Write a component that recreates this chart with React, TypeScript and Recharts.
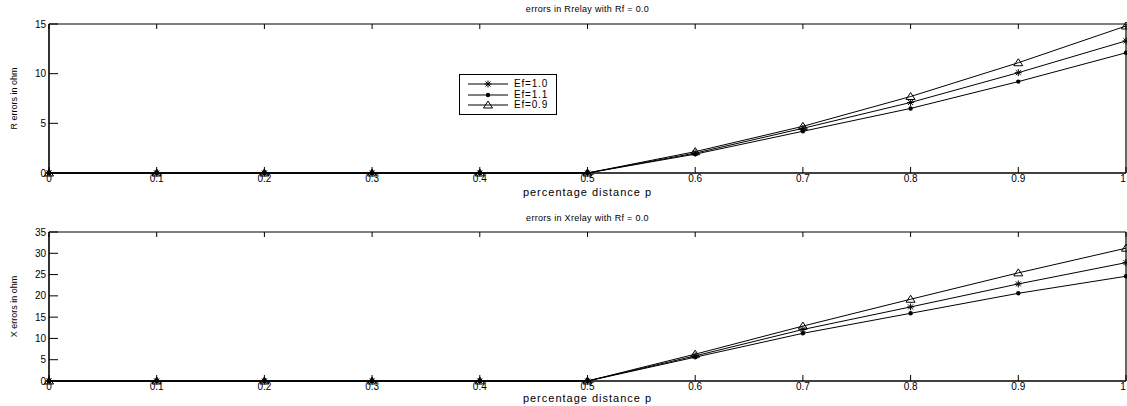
import { FC, ReactElement } from "react";
import { LineChart, Line, XAxis, YAxis, Legend } from "recharts";

// percentage distance p
const pValues = [0, 0.1, 0.2, 0.3, 0.4, 0.5, 0.6, 0.7, 0.8, 0.9, 1.0];

// errors in Rrelay
const rEf10 = [0, 0, 0, 0, 0, 0, 2.0, 4.5, 7.1, 10.1, 13.3];
const rEf11 = [0, 0, 0, 0, 0, 0, 1.9, 4.2, 6.5, 9.2, 12.1];
const rEf09 = [0, 0, 0, 0, 0, 0, 2.15, 4.7, 7.7, 11.1, 14.8];

// errors in Xrelay
const xEf10 = [0, 0, 0, 0, 0, 0, 5.9, 12.1, 17.4, 22.8, 27.8];
const xEf11 = [0, 0, 0, 0, 0, 0, 5.6, 11.2, 15.9, 20.6, 24.6];
const xEf09 = [0, 0, 0, 0, 0, 0, 6.3, 12.9, 19.2, 25.4, 31.2];

const rTicks = [0, 5, 10, 15];
const xTicks = [0, 5, 10, 15, 20, 25, 30, 35];

const seriesNames = ["Ef=1.0", "Ef=1.1", "Ef=0.9"];

const FONT = "'Liberation Sans', Arial, sans-serif";

const makeRows = (a: number[], b: number[], c: number[]) =>
  pValues.map((p, i) => ({ p, ef10: a[i], ef11: b[i], ef09: c[i] }));

const rData = makeRows(rEf10, rEf11, rEf09);
const xData = makeRows(xEf10, xEf11, xEf09);

const fmtP = (v: number) => (v === 0 ? "0" : v === 1 ? "1" : v.toFixed(1));

// markers
const Star = ({ cx, cy }: { cx: number; cy: number }) => (
  <g stroke="#000" strokeWidth={1}>
    <line x1={cx - 3.5} x2={cx + 3.5} y1={cy} y2={cy} />
    <line x1={cx} x2={cx} y1={cy - 3.5} y2={cy + 3.5} />
    <line x1={cx - 2.5} x2={cx + 2.5} y1={cy - 2.5} y2={cy + 2.5} />
    <line x1={cx - 2.5} x2={cx + 2.5} y1={cy + 2.5} y2={cy - 2.5} />
  </g>
);
const Dot = ({ cx, cy }: { cx: number; cy: number }) => (
  <circle cx={cx} cy={cy} r={2.2} fill="#000" />
);
const Tri = ({ cx, cy }: { cx: number; cy: number }) => (
  <polygon
    points={`${cx},${cy - 4} ${cx - 4.5},${cy + 3} ${cx + 4.5},${cy + 3}`}
    fill="none"
    stroke="#000"
    strokeWidth={1}
  />
);

const markers = [Star, Dot, Tri];

const dotFn = (M: FC<{ cx: number; cy: number }>) => (props: any): ReactElement => (
  <M key={`m-${props.index}`} cx={props.cx} cy={props.cy} />
);

// inward ticks, matlab style
const BottomTick = (props: any) => {
  const { x, y, payload } = props;
  // last label sits on the right edge, nudge it so it stays readable
  const tx = payload.value === 1 ? x - 3 : x;
  return (
    <g>
      <line x1={x} x2={x} y1={y} y2={y - 6} stroke="#000" />
      <text x={tx} y={y + 2} dy="0.71em" textAnchor="middle" fontSize={10} fill="#000" fontFamily={FONT}>
        {fmtP(payload.value)}
      </text>
    </g>
  );
};
const TopTick = (props: any) => {
  const { x, y } = props;
  return <line x1={x} x2={x} y1={y} y2={y + 5} stroke="#000" />;
};
const LeftTick = (props: any) => {
  const { x, y, payload } = props;
  return (
    <g>
      <line x1={x} x2={x + 9} y1={y} y2={y} stroke="#000" />
      <text x={x - 3} y={y} dy="0.35em" textAnchor="end" fontSize={10} fill="#000" fontFamily={FONT}>
        {payload.value}
      </text>
    </g>
  );
};
const RightTick = (props: any) => {
  const { x, y } = props;
  return <line x1={x} x2={x - 9} y1={y} y2={y} stroke="#000" />;
};

const LegendBox = () => (
  <div
    style={{
      border: "1px solid #000",
      background: "#fff",
      width: 98,
      padding: "4px 0 3px 0",
      fontFamily: FONT,
      fontSize: 10,
      letterSpacing: 0.8,
      boxSizing: "border-box",
    }}
  >
    {seriesNames.map((name, i) => {
      const M = markers[i];
      return (
        <div key={name} style={{ display: "flex", alignItems: "center", height: 10.5 }}>
          <svg width={54} height={10}>
            <line x1={8} x2={48} y1={5} y2={5} stroke="#000" />
            <M cx={28} cy={5} />
          </svg>
          <span style={{ lineHeight: "10px" }}>{name}</span>
        </div>
      );
    })}
  </div>
);

type PanelProps = {
  data: { p: number; ef10: number; ef11: number; ef09: number }[];
  top: number;
  height: number;
  marginTop: number;
  axisHeight: number;
  yMax: number;
  yTicks: number[];
  yLabel: string;
  title: string;
  titleY: number;
  showLegend?: boolean;
};

const Panel: FC<PanelProps> = ({
  data,
  top,
  height,
  marginTop,
  axisHeight,
  yMax,
  yTicks,
  yLabel,
  title,
  titleY,
  showLegend,
}) => (
  <div style={{ position: "absolute", left: 0, top, width: 1127, height }}>
    <div
      style={{
        position: "absolute",
        left: 49,
        width: 1077,
        top: titleY,
        textAlign: "center",
        fontFamily: FONT,
        fontSize: 9,
        letterSpacing: 0.3,
        lineHeight: "10px",
      }}
    >
      {title}
    </div>
    <LineChart width={1127} height={height} data={data} margin={{ top: marginTop - 1, right: 0, left: 0, bottom: 0 }}>
      <XAxis
        xAxisId="b"
        dataKey="p"
        type="number"
        domain={[0, 1]}
        ticks={pValues}
        interval={0}
        height={axisHeight}
        tickSize={0}
        tickMargin={0}
        tick={BottomTick}
        axisLine={{ stroke: "#000", strokeWidth: 1.6 }}
        label={{
          value: "percentage distance p",
          position: "insideBottom",
          offset: 4,
          style: { fontFamily: FONT, fontSize: 11, letterSpacing: 1, fill: "#000" },
        }}
      />
      <XAxis
        xAxisId="t"
        dataKey="p"
        type="number"
        orientation="top"
        domain={[0, 1]}
        ticks={pValues}
        interval={0}
        height={1}
        tickSize={0}
        tickMargin={0}
        tick={TopTick}
        axisLine={{ stroke: "#000", strokeWidth: 1.2 }}
      />
      <YAxis
        yAxisId="l"
        domain={[0, yMax]}
        ticks={yTicks}
        interval={0}
        width={49}
        tickSize={0}
        tickMargin={0}
        tick={LeftTick}
        axisLine={{ stroke: "#000", strokeWidth: 1.6 }}
        label={{
          value: yLabel,
          angle: -90,
          position: "insideLeft",
          offset: 14,
          style: { fontFamily: FONT, fontSize: 9, fill: "#000", textAnchor: "middle" },
        }}
      />
      <YAxis
        yAxisId="r"
        orientation="right"
        domain={[0, yMax]}
        ticks={yTicks}
        interval={0}
        width={1}
        tickSize={0}
        tickMargin={0}
        tick={RightTick}
        axisLine={{ stroke: "#000", strokeWidth: 1.2 }}
      />
      {showLegend && (
        <Legend
          layout="vertical"
          align="center"
          verticalAlign="middle"
          content={() => <LegendBox />}
          wrapperStyle={{ left: 459, top: 74, width: 100, bottom: "auto", right: "auto" }}
        />
      )}
      <Line
        xAxisId="b"
        yAxisId="l"
        dataKey="ef10"
        name={seriesNames[0]}
        stroke="#000"
        strokeWidth={1}
        dot={dotFn(Star)}
        activeDot={false}
        isAnimationActive={false}
      />
      <Line
        xAxisId="b"
        yAxisId="l"
        dataKey="ef11"
        name={seriesNames[1]}
        stroke="#000"
        strokeWidth={1}
        dot={dotFn(Dot)}
        activeDot={false}
        isAnimationActive={false}
      />
      <Line
        xAxisId="b"
        yAxisId="l"
        dataKey="ef09"
        name={seriesNames[2]}
        stroke="#000"
        strokeWidth={1}
        dot={dotFn(Tri)}
        activeDot={false}
        isAnimationActive={false}
      />
    </LineChart>
  </div>
);

export default function App() {
  return (
    <div style={{ position: "absolute", left: 0, top: 0, width: 1127, height: 406, background: "#fff", overflow: "hidden" }}>
      <Panel
        data={rData}
        top={0}
        height={200}
        marginTop={24}
        axisHeight={27}
        yMax={15}
        yTicks={rTicks}
        yLabel="R errors in ohm"
        title="errors in Rrelay with Rf = 0.0"
        titleY={4}
        showLegend
      />
      <Panel
        data={xData}
        top={200}
        height={206}
        marginTop={32}
        axisHeight={25}
        yMax={35}
        yTicks={xTicks}
        yLabel="X errors in ohm"
        title="errors in Xrelay with Rf = 0.0"
        titleY={13}
      />
    </div>
  );
}
